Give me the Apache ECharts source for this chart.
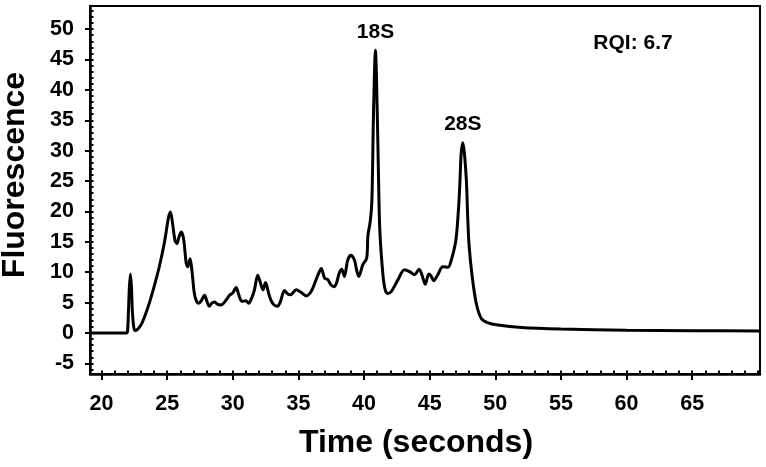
<!DOCTYPE html>
<html>
<head>
<meta charset="utf-8">
<script src="https://cdn.jsdelivr.net/npm/echarts@6/dist/echarts.min.js"></script>
<style>
html,body{margin:0;padding:0;background:#fff;}
#chart{width:766px;height:467px;}
</style>
</head>
<body>
<div id="chart"></div>
<script>
// Data
const time = [19.12, 21.9, 21.98, 22.05, 22.12, 22.2, 22.28, 22.35, 22.45, 22.55, 22.7, 23.0, 23.3, 23.65, 24.0, 24.4, 24.8, 25.1, 25.25, 25.4, 25.6, 25.75, 25.9, 26.07, 26.25, 26.45, 26.57, 26.75, 26.9, 27.05, 27.2, 27.4, 27.6, 27.85, 28.0, 28.2, 28.4, 28.6, 28.85, 29.1, 29.45, 29.75, 30.0, 30.26, 30.45, 30.7, 31.0, 31.2, 31.45, 31.65, 31.9, 32.1, 32.3, 32.5, 32.7, 32.9, 33.15, 33.4, 33.6, 33.94, 34.2, 34.4, 34.83, 35.2, 35.6, 35.9, 36.1, 36.35, 36.5, 36.74, 37.0, 37.24, 37.45, 37.7, 37.9, 38.1, 38.3, 38.5, 38.76, 39.0, 39.27, 39.45, 39.6, 39.9, 40.2, 40.3, 40.47, 40.6, 40.72, 40.87, 41.0, 41.1, 41.2, 41.43, 41.6, 41.8, 42.07, 42.57, 43.08, 43.47, 43.85, 44.2, 44.45, 44.66, 44.94, 45.1, 45.3, 45.6, 46.0, 46.4, 46.65, 47.0, 47.2, 47.3, 47.4, 47.53, 47.65, 47.8, 47.9, 48.0, 48.24, 48.55, 48.93, 49.4, 50.2, 52, 55, 60, 65, 70.17];
const fluorescence = [0, 0, 0.3, 3.5, 7.5, 9.7, 7.5, 3.5, 1.0, 0.4, 0.5, 1.3, 2.8, 5.0, 7.6, 10.9, 15.0, 19.0, 19.9, 18.2, 15.2, 14.7, 15.8, 16.6, 15.5, 11.5, 10.9, 12.2, 10.0, 6.8, 5.4, 4.9, 5.3, 6.2, 5.4, 4.4, 4.9, 5.1, 4.7, 4.6, 5.3, 6.2, 6.6, 7.5, 6.3, 5.2, 5.3, 4.9, 5.8, 7.1, 9.5, 8.3, 7.1, 8.3, 6.8, 5.4, 4.6, 4.4, 5.0, 7.0, 6.4, 6.3, 7.1, 6.7, 6.1, 6.6, 7.4, 8.8, 9.6, 10.6, 9.0, 8.8, 8.0, 7.6, 8.2, 9.8, 10.5, 9.3, 12.0, 12.8, 12.0, 10.2, 9.3, 11.2, 12.3, 16.1, 18.3, 21.9, 36, 46.5, 37, 26, 17, 9.8, 7.2, 6.5, 6.8, 8.7, 10.4, 10.1, 9.6, 10.5, 9.3, 8.0, 9.7, 9.4, 8.6, 9.5, 10.9, 10.8, 12.0, 15.3, 20.5, 24.5, 29.5, 31.3, 29.5, 25, 19, 14.5, 9.3, 4.9, 2.4, 1.7, 1.3, 0.9, 0.65, 0.45, 0.38, 0.33];
const xMajorTicks = [20, 25, 30, 35, 40, 45, 50, 55, 60, 65];
const xMinorTicks = [20,21,22,23,24,25,26,27,28,29,30,31,32,33,34,35,36,37,38,39,40,41,42,43,44,45,46,47,48,49,50,51,52,53,54,55,56,57,58,59,60,61,62,63,64,65,66,67,68,69,70];
const yMajorTicks = [-5, 0, 5, 10, 15, 20, 25, 30, 35, 40, 45, 50];
const yMinorTicks = [-6,-5,-4,-3,-2,-1,0,1,2,3,4,5,6,7,8,9,10,11,12,13,14,15,16,17,18,19,20,21,22,23,24,25,26,27,28,29,30,31,32,33,34,35,36,37,38,39,40,41,42,43,44,45,46,47,48,49,50,51,52,53];
const peaks = [
  {name: '18S', time: 40.87, value: 46.5},
  {name: '28S', time: 47.53, value: 31.3}
];
const rqiText = 'RQI: 6.7';
const xTitle = 'Time (seconds)';
const yTitle = 'Fluorescence';

const FONT = '"Liberation Sans", Arial, Helvetica, sans-serif';
const chart = echarts.init(document.getElementById('chart'), null, {renderer: 'canvas'});
const xMin = 19.12, xMax = 70.17, yMin = -6.75, yMax = 53.8;

const pts = time.map((t, i) => [t, fluorescence[i]]);

chart.setOption({
  animation: false,
  backgroundColor: '#ffffff',
  grid: {left: 90, right: 6, top: 6, bottom: 93, show: true, borderColor: '#000', borderWidth: 2, backgroundColor: 'transparent'},
  xAxis: [
    {
      type: 'value', min: xMin, max: xMax, position: 'bottom',
      axisLine: {show: true, onZero: false, lineStyle: {color: '#000', width: 2.5}},
      axisTick: {show: true, customValues: xMajorTicks, length: 6, lineStyle: {color: '#000', width: 2}},
      axisLabel: {show: true, customValues: xMajorTicks, margin: 19, color: '#000', fontSize: 21.5, fontWeight: 'bold', fontFamily: FONT},
      splitLine: {show: false}
    },
    {
      type: 'value', min: xMin, max: xMax, position: 'bottom',
      axisLine: {show: false, onZero: false},
      axisTick: {show: true, inside: true, customValues: xMinorTicks, length: 3.5, lineStyle: {color: '#000', width: 2}},
      axisLabel: {show: false},
      splitLine: {show: false}
    }
  ],
  yAxis: [
    {
      type: 'value', min: yMin, max: yMax, position: 'left',
      axisLine: {show: true, onZero: false, lineStyle: {color: '#000', width: 2.5}},
      axisTick: {show: true, customValues: yMajorTicks, length: 5, lineStyle: {color: '#000', width: 2}},
      axisLabel: {show: true, customValues: yMajorTicks, margin: 16, color: '#000', fontSize: 21.5, fontWeight: 'bold', fontFamily: FONT},
      splitLine: {show: false}
    },
    {
      type: 'value', min: yMin, max: yMax, position: 'left',
      axisLine: {show: false, onZero: false},
      axisTick: {show: true, inside: true, customValues: yMinorTicks, length: 3.5, lineStyle: {color: '#000', width: 2}},
      axisLabel: {show: false},
      splitLine: {show: false}
    }
  ],
  series: [{
    type: 'line',
    data: pts,
    xAxisIndex: 0, yAxisIndex: 0,
    smooth: 0.3,
    symbol: 'none',
    lineStyle: {color: '#000', width: 3},
    markPoint: {
      symbol: 'circle', symbolSize: 0,
      data: peaks.map(p => ({
        name: p.name, coord: [p.time, p.value],
        label: {show: true, position: 'top', distance: 8, formatter: p.name, color: '#000', fontSize: 21, fontWeight: 'bold', fontFamily: FONT}
      }))
    }
  }],
  graphic: [
    {type: 'text', x: 633, y: 43, style: {text: rqiText, fill: '#000', font: 'bold 21px ' + FONT, align: 'center', verticalAlign: 'middle'}},
    {type: 'text', x: 416, y: 443, style: {text: xTitle, fill: '#000', font: 'bold 32px ' + FONT, align: 'center', verticalAlign: 'middle'}},
    {type: 'text', x: 15, y: 175, rotation: Math.PI / 2, style: {text: yTitle, fill: '#000', font: 'bold 32px ' + FONT, align: 'center', verticalAlign: 'middle'}}
  ]
});
</script>
</body>
</html>
